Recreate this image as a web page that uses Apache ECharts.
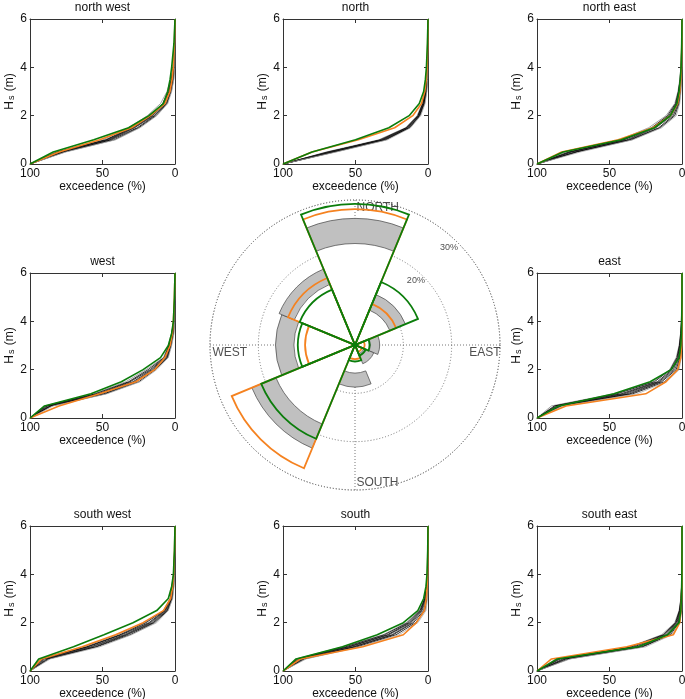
<!DOCTYPE html>
<html><head><meta charset="utf-8">
<script src="https://cdn.jsdelivr.net/npm/echarts/dist/echarts.min.js"></script>
<style>html,body{margin:0;padding:0;background:#fff}#c{width:685px;height:699px}</style>
</head><body><div id="c"></div>
<script>
// ---------- data ----------
const HS_LEVELS = [0, 0.5, 1, 1.5, 2, 2.5, 3, 3.5, 4, 5, 6];   // Hs (m) at which exceedence is given
const PANEL_TITLES = ['north west', 'north', 'north east', 'west', 'east', 'south west', 'south', 'south east'];

// exceedence (%) for each Hs level
const NW_GREEN  = [100, 84, 56, 32, 18, 8, 5, 3.4, 2.3, 0.7, 0];
const NW_ORANGE = [100, 80, 52, 30, 17, 7, 3.5, 2.0, 1.2, 0.4, 0];
const NW_ENSEMBLE = [
  [100, 82, 50, 32, 19, 10, 5.5, 3, 1.5, 0.4, 0],
  [100, 80, 48, 30, 17, 8.5, 4.8, 2.6, 1.2, 0.3, 0],
  [100, 79, 47, 29, 16, 8, 4.2, 2.2, 1.0, 0.2, 0],
  [100, 81, 46, 28, 15.5, 7.2, 3.8, 1.9, 0.8, 0.1, 0],
  [100, 78, 45, 28, 14.5, 6.8, 3.4, 1.6, 0.7, 0.1, 0],
  [100, 77, 44, 26, 14, 6, 3, 1.3, 0.5, 0, 0],
  [100, 76, 42, 25, 13, 5.5, 2.6, 1.0, 0.3, 0, 0],
  [100, 75, 41, 24, 12.5, 5, 2.3, 0.8, 0.2, 0, 0]
];
const N_GREEN  = [100, 80, 50, 27, 13, 6, 3, 1.8, 1.1, 0.4, 0];
const N_ORANGE = [100, 80, 48, 23, 10.5, 4.5, 2.2, 1.2, 0.6, 0.2, 0];
const N_ENSEMBLE = [
  [100, 70, 34, 15.5, 7.5, 4, 2, 1, 0.5, 0.1, 0],
  [100, 68, 33, 15, 7, 3.6, 1.8, 0.9, 0.4, 0, 0],
  [100, 67, 32, 14, 6.8, 3.4, 1.6, 0.8, 0.3, 0, 0],
  [100, 69, 31, 14.5, 6.5, 3.2, 1.4, 0.7, 0.3, 0, 0],
  [100, 66, 31, 13.5, 6.2, 3, 1.3, 0.6, 0.2, 0, 0],
  [100, 65, 30, 13, 6, 2.8, 1.2, 0.5, 0.2, 0, 0],
  [100, 64, 29, 12.5, 5.5, 2.4, 1, 0.4, 0.1, 0, 0],
  [100, 63, 28, 12, 5, 2, 0.8, 0.3, 0.1, 0, 0]
];
const NE_GREEN  = [100, 82, 42, 19, 8, 3.5, 2, 1.2, 0.6, 0.2, 0];
const NE_ORANGE = [100, 83, 44, 20, 8, 3, 1.5, 0.8, 0.4, 0.1, 0];
const NE_ENSEMBLE = [
  [100, 80, 43, 23, 11, 5, 2.8, 1.5, 0.8, 0.2, 0],
  [100, 78, 41, 21, 10, 4.5, 2.5, 1.3, 0.7, 0.1, 0],
  [100, 76, 40, 20, 9, 4, 2.2, 1.1, 0.5, 0, 0],
  [100, 77, 38, 19, 8, 3.5, 1.8, 0.9, 0.4, 0, 0],
  [100, 74, 37, 18, 7, 3, 1.5, 0.8, 0.3, 0, 0],
  [100, 73, 36, 16, 6, 2.5, 1.2, 0.6, 0.2, 0, 0],
  [100, 72, 35, 15, 5, 2, 1, 0.4, 0.1, 0, 0],
  [100, 70, 34, 14, 4, 1.6, 0.7, 0.3, 0, 0, 0]
];
const W_GREEN  = [100, 90, 58, 37, 22, 10, 4.6, 2.3, 1.1, 0.4, 0];
const W_ORANGE = [100, 80, 52, 27, 14, 7, 3.4, 1.8, 1.1, 0.4, 0];
const W_ENSEMBLE = [
  [100, 90, 56, 34, 20, 8, 4.6, 2.5, 1.0, 0.3, 0],
  [100, 89, 55, 32, 18.5, 7.5, 4.2, 2.2, 0.9, 0.2, 0],
  [100, 88, 53, 31, 17, 7, 3.9, 2, 0.8, 0.1, 0],
  [100, 87, 52, 29, 16, 6.5, 3.6, 1.7, 0.6, 0, 0],
  [100, 86, 51, 28, 15, 6, 3.2, 1.5, 0.5, 0, 0],
  [100, 86, 49, 27, 14, 5.5, 2.9, 1.2, 0.4, 0, 0],
  [100, 85, 48, 25, 13.5, 5, 2.6, 1, 0.3, 0, 0],
  [100, 84, 47, 24, 12.6, 4.6, 2.3, 0.7, 0.2, 0, 0]
];
const E_GREEN  = [100, 85, 47, 22, 7.5, 2, 0.8, 0.4, 0.2, 0, 0];
const E_ORANGE = [100, 80, 25, 11, 3, 0.8, 0.3, 0.1, 0, 0, 0];
const E_ENSEMBLE = [
  [100, 90, 47, 20, 8.5, 4, 2, 1, 0.5, 0.1, 0],
  [100, 88, 45, 19, 8, 3.5, 1.8, 0.9, 0.4, 0, 0],
  [100, 87, 42, 17, 7, 3, 1.5, 0.7, 0.3, 0, 0],
  [100, 86, 40, 16, 6, 2.5, 1.2, 0.5, 0.2, 0, 0],
  [100, 85, 38, 15, 5, 2, 0.9, 0.4, 0.1, 0, 0],
  [100, 84, 36, 14, 4, 1.5, 0.7, 0.3, 0, 0, 0],
  [100, 83, 34, 12, 3, 1, 0.4, 0.1, 0, 0, 0],
  [100, 82, 31, 11, 2, 0.5, 0.2, 0, 0, 0, 0]
];
const SW_GREEN  = [100, 94, 70, 49, 29, 12.6, 4.6, 2.3, 1.1, 0.4, 0];
const SW_ORANGE = [100, 92, 64, 41, 22, 8, 3, 1.6, 0.9, 0.3, 0];
const SW_ENSEMBLE = [
  [100, 93, 63, 40, 21, 8, 3.4, 2.3, 1.0, 0.3, 0],
  [100, 92, 61, 38, 20, 7.5, 3.2, 2, 0.9, 0.2, 0],
  [100, 91, 60, 37, 18, 7, 3, 1.8, 0.8, 0.2, 0],
  [100, 90, 58, 35, 17, 6.5, 2.8, 1.5, 0.7, 0.1, 0],
  [100, 89, 57, 34, 16, 6, 2.5, 1.3, 0.5, 0.1, 0],
  [100, 88, 55, 33, 15, 5.5, 2.2, 1.1, 0.4, 0, 0],
  [100, 87, 54, 31, 14, 5, 1.9, 0.9, 0.3, 0, 0],
  [100, 86, 52, 30, 12.6, 4.6, 1.6, 0.7, 0.2, 0, 0]
];
const S_GREEN  = [100, 91, 59, 35, 17, 7, 3, 1.4, 0.7, 0.2, 0];
const S_ORANGE = [100, 88, 45, 17, 8, 2.5, 1.2, 0.6, 0.3, 0.1, 0];
const S_ENSEMBLE = [
  [100, 91, 59, 31, 15, 6, 2.5, 1.2, 0.5, 0.1, 0],
  [100, 90, 57, 30, 14, 5.5, 2.3, 1.1, 0.4, 0, 0],
  [100, 89, 55, 28, 13, 5, 2, 0.9, 0.3, 0, 0],
  [100, 88, 54, 27, 12, 4.5, 1.8, 0.8, 0.3, 0, 0],
  [100, 87, 52, 25, 11, 4, 1.5, 0.6, 0.2, 0, 0],
  [100, 86, 51, 24, 10, 3, 1.1, 0.5, 0.1, 0, 0],
  [100, 85, 49, 22, 8.5, 2.2, 0.7, 0.3, 0, 0, 0],
  [100, 84, 47, 20, 7, 1.4, 0.3, 0.1, 0, 0, 0]
];
const SE_GREEN  = [100, 86, 30, 10, 2, 0.8, 0.4, 0.2, 0.1, 0, 0];
const SE_ORANGE = [100, 90, 38, 6, 1.5, 0.7, 0.3, 0.1, 0, 0, 0];
const SE_ENSEMBLE = [
  [100, 87, 36, 14, 5, 2, 0.8, 0.4, 0.2, 0, 0],
  [100, 85, 35, 13, 4.5, 1.8, 0.7, 0.3, 0.1, 0, 0],
  [100, 84, 33, 12, 4, 1.5, 0.6, 0.3, 0.1, 0, 0],
  [100, 82, 31, 11, 3.5, 1.2, 0.5, 0.2, 0, 0, 0],
  [100, 81, 30, 10, 3, 1, 0.4, 0.1, 0, 0, 0],
  [100, 80, 28, 9, 2.5, 0.8, 0.3, 0.1, 0, 0, 0],
  [100, 78, 27, 8, 2, 0.5, 0.2, 0, 0, 0, 0],
  [100, 77, 25, 7, 1.6, 0.2, 0.1, 0, 0, 0, 0]
];

// wind-rose (percent of time per sector)
const ROSE_DIRS      = ['N', 'NE', 'E', 'SE', 'S', 'SW', 'W', 'NW'];
const ROSE_GRAY_MIN  = [21.0, 7.8, 3.2, 2.0, 5.8, 17.7, 12.6, 13.6];
const ROSE_GRAY_MAX  = [26.2, 11.3, 5.1, 4.2, 8.7, 23.1, 16.4, 17.0];
const ROSE_ORANGE    = [28.1, 9.2, 2.0, 1.6, 2.9, 27.6, 10.3, 15.0];
const ROSE_GREEN     = [29.2, 14.1, 3.0, 2.4, 3.4, 21.0, 11.8, 12.4];
const ROSE_DIR_LABELS  = ['NORTH', 'EAST', 'SOUTH', 'WEST'];
const ROSE_RING_LABELS = ['10%', '20%', '30%'];

// ---------- layout / style ----------
const FONT = 'Liberation Sans, Arial, Helvetica, sans-serif';
const GREEN = '#0b7d0b', ORANGE = '#f58220', GRAY = '#c0c0c0';
const ENS_COLORS = ['#8a8a8a', '#000', '#000', '#111', '#333', '#000', '#000', '#a8a8a8'];
const COLS = [30, 283, 537], ROWS = [19, 273, 526], PW = 145, PH = 145;
const CELL = [[0,0],[1,0],[2,0],[0,1],[2,1],[0,2],[1,2],[2,2]];
const PANELS = [
  [NW_GREEN, NW_ORANGE, NW_ENSEMBLE], [N_GREEN, N_ORANGE, N_ENSEMBLE], [NE_GREEN, NE_ORANGE, NE_ENSEMBLE],
  [W_GREEN, W_ORANGE, W_ENSEMBLE], [E_GREEN, E_ORANGE, E_ENSEMBLE],
  [SW_GREEN, SW_ORANGE, SW_ENSEMBLE], [S_GREEN, S_ORANGE, S_ENSEMBLE], [SE_GREEN, SE_ORANGE, SE_ENSEMBLE]
];
const AX = '#333', TXT = '#111';

const grid = [], xAxis = [], yAxis = [], title = [], series = [];
const pairs = arr => arr.map((x, k) => [x, HS_LEVELS[k]]);

PANELS.forEach((p, i) => {
  const [c, r] = CELL[i];
  grid.push({left: COLS[c], top: ROWS[r], width: PW, height: PH, containLabel: false, outerBoundsMode: 'none'});
  title.push({text: PANEL_TITLES[i], left: COLS[c] + PW / 2, top: ROWS[r] - 17, textAlign: 'center', padding: 0,
    textStyle: {fontSize: 12, fontWeight: 'normal', color: TXT, fontFamily: FONT}});
  const common = {type: 'value', gridIndex: i, splitLine: {show: false},
    axisLine: {show: true, onZero: false, lineStyle: {color: AX, width: 1}},
    axisTick: {show: true, inside: true, length: 4, lineStyle: {color: AX, width: 1}}};
  xAxis.push(Object.assign({}, common, {min: 0, max: 100, interval: 50, inverse: true, position: 'bottom',
    axisLabel: {color: TXT, fontSize: 12, margin: 4, fontFamily: FONT},
    name: 'exceedence (%)', nameLocation: 'middle', nameGap: 17,
    nameTextStyle: {color: TXT, fontSize: 12, fontFamily: FONT}}));
  xAxis.push(Object.assign({}, common, {min: 0, max: 100, interval: 50, inverse: true, position: 'top', axisLabel: {show: false}}));
  yAxis.push(Object.assign({}, common, {min: 0, max: 6, interval: 2, position: 'left',
    axisLabel: {color: TXT, fontSize: 12, margin: 3, fontFamily: FONT},
    name: '{m|H}{s|s}{m| (m)}', nameLocation: 'middle', nameGap: 12,
    nameTextStyle: {color: TXT, fontFamily: FONT, rich: {
      m: {fontSize: 12, lineHeight: 14, color: TXT, fontFamily: FONT},
      s: {fontSize: 9, lineHeight: 10, padding: [7, 1, 0, 1], verticalAlign: 'bottom', color: TXT, fontFamily: FONT}}}}));
  yAxis.push(Object.assign({}, common, {min: 0, max: 6, interval: 2, position: 'right', axisLabel: {show: false}}));
  const base = {type: 'line', xAxisIndex: 2 * i, yAxisIndex: 2 * i, symbol: 'none', showSymbol: false, silent: true, animation: false};
  p[2].forEach((ens, k) => series.push(Object.assign({}, base, {data: pairs(ens), lineStyle: {color: ENS_COLORS[k], width: 0.8}})));
  series.push(Object.assign({}, base, {data: pairs(p[1]), lineStyle: {color: ORANGE, width: 1.6}}));
  series.push(Object.assign({}, base, {data: pairs(p[0]), lineStyle: {color: GREEN, width: 1.6}}));
});

// ---------- wind rose ----------
const CENTER = [355, 345], RADIUS = 145;
const DOT = {type: [1, 2], color: '#777', width: 1};
const polar = [{center: CENTER, radius: RADIUS}, {center: CENTER, radius: RADIUS}];
const angleAxis = [
  {polarIndex: 0, type: 'category', data: ROSE_DIRS, startAngle: 112.5, clockwise: true, boundaryGap: true,
   axisLine: {show: false}, axisTick: {show: false}, axisLabel: {show: false}, splitLine: {show: false}, splitArea: {show: false}},
  {polarIndex: 1, type: 'value', min: 0, max: 360, interval: 90, startAngle: 90, clockwise: true,
   axisLine: {show: true, lineStyle: DOT}, axisTick: {show: false}, axisLabel: {show: false},
   splitLine: {show: true, lineStyle: DOT}, splitArea: {show: false}}
];
const radiusAxis = [
  {polarIndex: 0, type: 'value', min: 0, max: 30, axisLine: {show: false}, axisTick: {show: false}, axisLabel: {show: false}, splitLine: {show: false}},
  {polarIndex: 1, type: 'value', min: 0, max: 30, interval: 10, axisLine: {show: false}, axisTick: {show: false}, axisLabel: {show: false},
   splitLine: {show: true, lineStyle: DOT}, splitArea: {show: false}}
];
const barBase = {type: 'bar', coordinateSystem: 'polar', polarIndex: 0, barCategoryGap: '0%', barGap: '-100%', silent: true, animation: false, z: 3};
series.push(Object.assign({}, barBase, {stack: 'band', data: ROSE_GRAY_MIN, itemStyle: {color: '#fff'}}));
series.push(Object.assign({}, barBase, {stack: 'band', data: ROSE_GRAY_MAX.map((v, k) => v - ROSE_GRAY_MIN[k]),
  itemStyle: {color: GRAY, borderColor: '#444', borderWidth: 0.7}}));
series.push(Object.assign({}, barBase, {data: ROSE_ORANGE, itemStyle: {color: 'rgba(0,0,0,0)', borderColor: ORANGE, borderWidth: 1.8}}));
series.push(Object.assign({}, barBase, {data: ROSE_GREEN, itemStyle: {color: 'rgba(0,0,0,0)', borderColor: GREEN, borderWidth: 1.8}}));

// labels placed in polar coordinates [radius %, angle deg]
const DIR_LABEL_AT = [[28.5, 0, 'right'], [26.9, 90, 'bottom'], [28.5, 180, 'right'], [25.9, 270, 'bottom']];
const RING_LABEL_AT = [[9.2, 43.5], [18.4, 43.2], [28.0, 44]];
series.push({type: 'scatter', coordinateSystem: 'polar', polarIndex: 1, silent: true, animation: false, z: 1,
  symbolSize: 1, itemStyle: {color: 'rgba(0,0,0,0)'},
  data: ROSE_DIR_LABELS.map((t, k) => ({name: t, value: [DIR_LABEL_AT[k][0], DIR_LABEL_AT[k][1]],
    label: {position: DIR_LABEL_AT[k][2]}})),
  label: {show: true, formatter: '{b}', distance: 1, fontSize: 12, color: '#222', fontFamily: FONT}});
series.push({type: 'scatter', coordinateSystem: 'polar', polarIndex: 1, silent: true, animation: false, z: 1,
  symbolSize: 1, itemStyle: {color: 'rgba(0,0,0,0)'},
  data: ROSE_RING_LABELS.map((t, k) => ({name: t, value: RING_LABEL_AT[k]})),
  label: {show: true, formatter: '{b}', position: 'inside', fontSize: 9, color: '#222', fontFamily: FONT}});

const chart = echarts.init(document.getElementById('c'), null, {renderer: 'canvas'});
chart.setOption({animation: false, backgroundColor: '#fff', textStyle: {fontFamily: FONT},
  title, grid, xAxis, yAxis, polar, angleAxis, radiusAxis, series});
</script></body></html>
